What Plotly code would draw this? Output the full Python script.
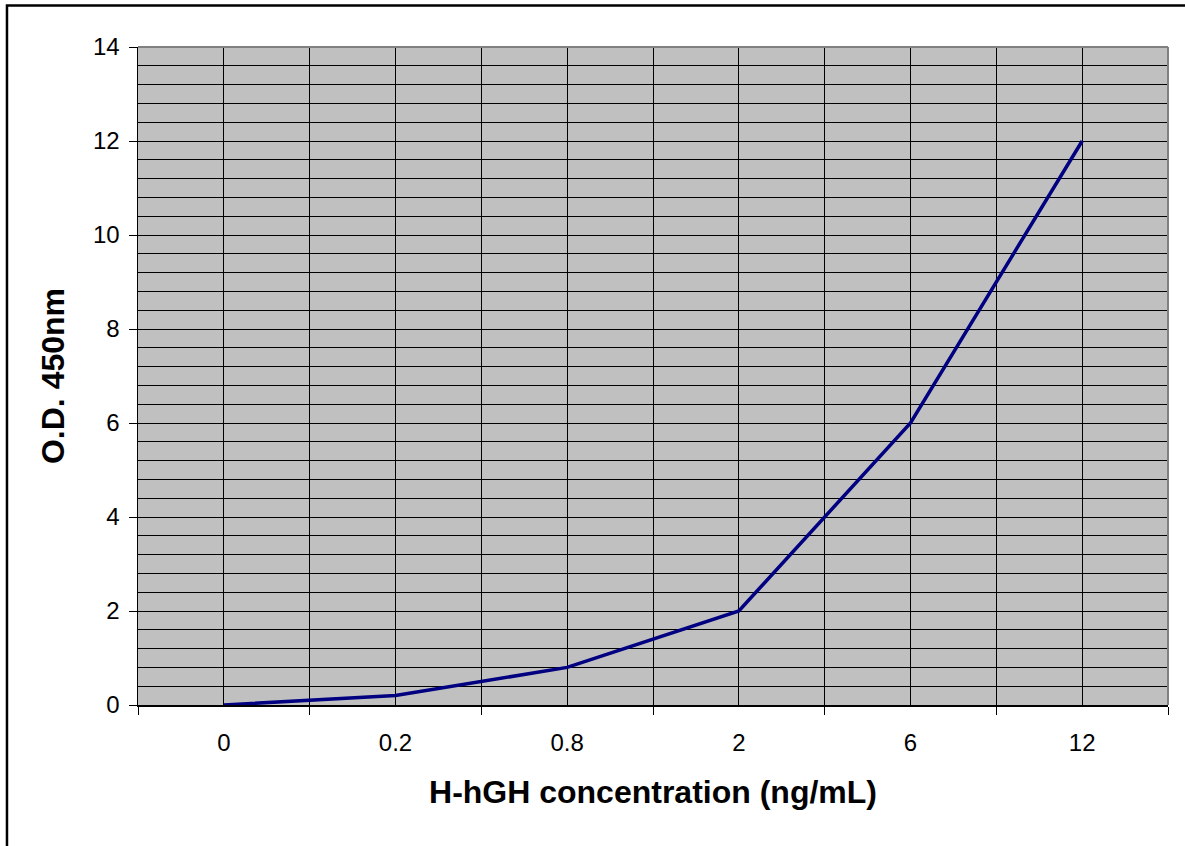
import plotly.graph_objects as go

categories = ["0", "0.2", "0.8", "2", "6", "12"]
od_values = [0, 0.2, 0.8, 2, 6, 12]
x_title = "H-hGH concentration (ng/mL)"
y_title = "O.D. 450nm"

FONT = "Liberation Sans, Arial, sans-serif"
xpos = list(range(len(categories)))
bounds = [i - 0.5 for i in range(len(categories) + 1)]

fig = go.Figure()
fig.add_trace(go.Scatter(
    x=xpos, y=od_values, mode="lines",
    line=dict(color="#000080", width=3.5),
    hoverinfo="skip", showlegend=False,
))

fig.update_layout(
    width=1185, height=846,
    margin=dict(l=138, r=17, t=47, b=141),
    paper_bgcolor="white",
    plot_bgcolor="#C0C0C0",
    font=dict(family=FONT, color="black", size=24),
    showlegend=False,
)

fig.update_xaxes(
    range=[-0.5, len(categories) - 0.5],
    tickmode="array", tickvals=xpos, ticktext=categories,
    ticks="", showgrid=True, gridcolor="black", gridwidth=1,
    zeroline=False,
    showline=True, linecolor="black", linewidth=1.5,
    tickfont=dict(size=24, family=FONT, color="black"),
    ticklabelstandoff=16,
    minor=dict(tickmode="array", tickvals=bounds, ticks="outside",
               ticklen=8, tickcolor="black", tickwidth=1,
               showgrid=True, gridcolor="black", gridwidth=1),
    title=dict(text="<b>" + x_title + "</b>",
               font=dict(size=32, family=FONT, color="black"),
               standoff=25),
)

fig.update_yaxes(
    range=[0, 14], tickmode="linear", tick0=0, dtick=2,
    ticks="outside", ticklen=8, tickcolor="black", tickwidth=1,
    showgrid=True, gridcolor="black", gridwidth=1,
    zeroline=False,
    showline=True, linecolor="black", linewidth=1.5,
    tickfont=dict(size=24, family=FONT, color="black"),
    ticklabelstandoff=4,
    minor=dict(tick0=0, dtick=0.4, showgrid=True, gridcolor="black",
               gridwidth=1, ticks=""),
    title=dict(text="<b>" + y_title + "</b>",
               font=dict(size=32, family=FONT, color="black"),
               standoff=19),
)

# gray plot-area border (top and right)
fig.add_shape(type="line", xref="paper", yref="paper", x0=0, x1=1, y0=1, y1=1,
              line=dict(color="#808080", width=2), layer="above")
fig.add_shape(type="line", xref="paper", yref="paper", x0=1, x1=1, y0=0, y1=1,
              line=dict(color="#808080", width=2), layer="above")
# outer chart frame
fig.add_shape(type="rect", xref="paper", yref="paper",
              x0=-0.1272, x1=1.2, y0=1.0631, y1=-0.4,
              line=dict(color="black", width=2.5), fillcolor="rgba(0,0,0,0)",
              layer="above")

fig.write_html("out.html",
               config={"displayModeBar": False, "staticPlot": True},
               post_script="document.body.style.margin='0';document.body.style.overflow='hidden';")
